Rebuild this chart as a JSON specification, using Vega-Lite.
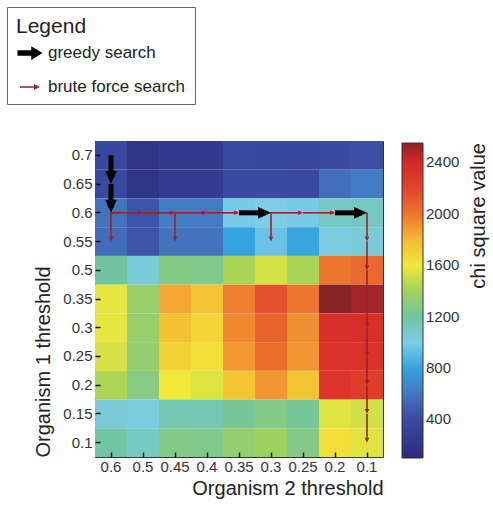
{
  "$schema": "https://vega.github.io/schema/vega-lite/v6.json",
  "autosize": {"type": "none"},
  "padding": {"left": 95, "top": 141, "right": 110, "bottom": 54},
  "width": 288,
  "height": 316,
  "background": "white",
  "config": {
    "font": "Liberation Sans",
    "view": {"stroke": "#333333", "strokeWidth": 1},
    "axis": {
      "grid": false,
      "domain": false,
      "tickSize": -5,
      "tickColor": "#111111",
      "tickWidth": 1.5,
      "labelFontSize": 15,
      "labelColor": "#333333",
      "titleFontSize": 20,
      "titleFontWeight": "normal",
      "titleColor": "#222222"
    }
  },
  "datasets": {
    "cells": [
      {"o1": "0.7", "o2": "0.6", "chi": 380}, {"o1": "0.7", "o2": "0.5", "chi": 190}, {"o1": "0.7", "o2": "0.45", "chi": 240}, {"o1": "0.7", "o2": "0.4", "chi": 240}, {"o1": "0.7", "o2": "0.35", "chi": 390}, {"o1": "0.7", "o2": "0.3", "chi": 380}, {"o1": "0.7", "o2": "0.25", "chi": 380}, {"o1": "0.7", "o2": "0.2", "chi": 400}, {"o1": "0.7", "o2": "0.1", "chi": 420},
      {"o1": "0.65", "o2": "0.6", "chi": 380}, {"o1": "0.65", "o2": "0.5", "chi": 190}, {"o1": "0.65", "o2": "0.45", "chi": 250}, {"o1": "0.65", "o2": "0.4", "chi": 250}, {"o1": "0.65", "o2": "0.35", "chi": 400}, {"o1": "0.65", "o2": "0.3", "chi": 400}, {"o1": "0.65", "o2": "0.25", "chi": 390}, {"o1": "0.65", "o2": "0.2", "chi": 560}, {"o1": "0.65", "o2": "0.1", "chi": 620},
      {"o1": "0.6", "o2": "0.6", "chi": 580}, {"o1": "0.6", "o2": "0.5", "chi": 450}, {"o1": "0.6", "o2": "0.45", "chi": 620}, {"o1": "0.6", "o2": "0.4", "chi": 620}, {"o1": "0.6", "o2": "0.35", "chi": 990}, {"o1": "0.6", "o2": "0.3", "chi": 1000}, {"o1": "0.6", "o2": "0.25", "chi": 990}, {"o1": "0.6", "o2": "0.2", "chi": 1100}, {"o1": "0.6", "o2": "0.1", "chi": 1110},
      {"o1": "0.55", "o2": "0.6", "chi": 550}, {"o1": "0.55", "o2": "0.5", "chi": 450}, {"o1": "0.55", "o2": "0.45", "chi": 580}, {"o1": "0.55", "o2": "0.4", "chi": 580}, {"o1": "0.55", "o2": "0.35", "chi": 800}, {"o1": "0.55", "o2": "0.3", "chi": 950}, {"o1": "0.55", "o2": "0.25", "chi": 810}, {"o1": "0.55", "o2": "0.2", "chi": 1030}, {"o1": "0.55", "o2": "0.1", "chi": 1040},
      {"o1": "0.5", "o2": "0.6", "chi": 1200}, {"o1": "0.5", "o2": "0.5", "chi": 1040}, {"o1": "0.5", "o2": "0.45", "chi": 1280}, {"o1": "0.5", "o2": "0.4", "chi": 1260}, {"o1": "0.5", "o2": "0.35", "chi": 1420}, {"o1": "0.5", "o2": "0.3", "chi": 1530}, {"o1": "0.5", "o2": "0.25", "chi": 1420}, {"o1": "0.5", "o2": "0.2", "chi": 2000}, {"o1": "0.5", "o2": "0.1", "chi": 2050},
      {"o1": "0.35", "o2": "0.6", "chi": 1570}, {"o1": "0.35", "o2": "0.5", "chi": 1350}, {"o1": "0.35", "o2": "0.45", "chi": 1850}, {"o1": "0.35", "o2": "0.4", "chi": 1750}, {"o1": "0.35", "o2": "0.35", "chi": 1970}, {"o1": "0.35", "o2": "0.3", "chi": 2150}, {"o1": "0.35", "o2": "0.25", "chi": 2000}, {"o1": "0.35", "o2": "0.2", "chi": 2550}, {"o1": "0.35", "o2": "0.1", "chi": 2500},
      {"o1": "0.3", "o2": "0.6", "chi": 1570}, {"o1": "0.3", "o2": "0.5", "chi": 1350}, {"o1": "0.3", "o2": "0.45", "chi": 1760}, {"o1": "0.3", "o2": "0.4", "chi": 1680}, {"o1": "0.3", "o2": "0.35", "chi": 1940}, {"o1": "0.3", "o2": "0.3", "chi": 2080}, {"o1": "0.3", "o2": "0.25", "chi": 1920}, {"o1": "0.3", "o2": "0.2", "chi": 2350}, {"o1": "0.3", "o2": "0.1", "chi": 2350},
      {"o1": "0.25", "o2": "0.6", "chi": 1540}, {"o1": "0.25", "o2": "0.5", "chi": 1340}, {"o1": "0.25", "o2": "0.45", "chi": 1700}, {"o1": "0.25", "o2": "0.4", "chi": 1640}, {"o1": "0.25", "o2": "0.35", "chi": 1890}, {"o1": "0.25", "o2": "0.3", "chi": 2030}, {"o1": "0.25", "o2": "0.25", "chi": 1900}, {"o1": "0.25", "o2": "0.2", "chi": 2330}, {"o1": "0.25", "o2": "0.1", "chi": 2320},
      {"o1": "0.2", "o2": "0.6", "chi": 1430}, {"o1": "0.2", "o2": "0.5", "chi": 1290}, {"o1": "0.2", "o2": "0.45", "chi": 1600}, {"o1": "0.2", "o2": "0.4", "chi": 1550}, {"o1": "0.2", "o2": "0.35", "chi": 1750}, {"o1": "0.2", "o2": "0.3", "chi": 1900}, {"o1": "0.2", "o2": "0.25", "chi": 1750}, {"o1": "0.2", "o2": "0.2", "chi": 2300}, {"o1": "0.2", "o2": "0.1", "chi": 2250},
      {"o1": "0.15", "o2": "0.6", "chi": 1050}, {"o1": "0.15", "o2": "0.5", "chi": 1020}, {"o1": "0.15", "o2": "0.45", "chi": 1150}, {"o1": "0.15", "o2": "0.4", "chi": 1140}, {"o1": "0.15", "o2": "0.35", "chi": 1220}, {"o1": "0.15", "o2": "0.3", "chi": 1270}, {"o1": "0.15", "o2": "0.25", "chi": 1220}, {"o1": "0.15", "o2": "0.2", "chi": 1560}, {"o1": "0.15", "o2": "0.1", "chi": 1520},
      {"o1": "0.1", "o2": "0.6", "chi": 1180}, {"o1": "0.1", "o2": "0.5", "chi": 1100}, {"o1": "0.1", "o2": "0.45", "chi": 1270}, {"o1": "0.1", "o2": "0.4", "chi": 1260}, {"o1": "0.1", "o2": "0.35", "chi": 1340}, {"o1": "0.1", "o2": "0.3", "chi": 1380}, {"o1": "0.1", "o2": "0.25", "chi": 1270}, {"o1": "0.1", "o2": "0.2", "chi": 1640}, {"o1": "0.1", "o2": "0.1", "chi": 1560}
    ],
    "steps": [
      {"x_from": "0.6", "y_from": "0.6", "x_to": "0.5", "y_to": "0.6", "dir": "right", "search": "brute force search"},
      {"x_from": "0.5", "y_from": "0.6", "x_to": "0.45", "y_to": "0.6", "dir": "right", "search": "brute force search"},
      {"x_from": "0.45", "y_from": "0.6", "x_to": "0.4", "y_to": "0.6", "dir": "right", "search": "brute force search"},
      {"x_from": "0.4", "y_from": "0.6", "x_to": "0.35", "y_to": "0.6", "dir": "right", "search": "brute force search"},
      {"x_from": "0.3", "y_from": "0.6", "x_to": "0.25", "y_to": "0.6", "dir": "right", "search": "brute force search"},
      {"x_from": "0.25", "y_from": "0.6", "x_to": "0.2", "y_to": "0.6", "dir": "right", "search": "brute force search"},
      {"x_from": "0.6", "y_from": "0.6", "x_to": "0.6", "y_to": "0.55", "dir": "down", "search": "brute force search"},
      {"x_from": "0.45", "y_from": "0.6", "x_to": "0.45", "y_to": "0.55", "dir": "down", "search": "brute force search"},
      {"x_from": "0.3", "y_from": "0.6", "x_to": "0.3", "y_to": "0.55", "dir": "down", "search": "brute force search"},
      {"x_from": "0.1", "y_from": "0.6", "x_to": "0.1", "y_to": "0.55", "dir": "down", "search": "brute force search"},
      {"x_from": "0.1", "y_from": "0.55", "x_to": "0.1", "y_to": "0.5", "dir": "down", "search": "brute force search"},
      {"x_from": "0.1", "y_from": "0.5", "x_to": "0.1", "y_to": "0.35", "dir": "down", "search": "brute force search"},
      {"x_from": "0.1", "y_from": "0.35", "x_to": "0.1", "y_to": "0.3", "dir": "down", "search": "brute force search"},
      {"x_from": "0.1", "y_from": "0.3", "x_to": "0.1", "y_to": "0.25", "dir": "down", "search": "brute force search"},
      {"x_from": "0.1", "y_from": "0.25", "x_to": "0.1", "y_to": "0.2", "dir": "down", "search": "brute force search"},
      {"x_from": "0.1", "y_from": "0.2", "x_to": "0.1", "y_to": "0.15", "dir": "down", "search": "brute force search"},
      {"x_from": "0.1", "y_from": "0.15", "x_to": "0.1", "y_to": "0.1", "dir": "down", "search": "brute force search"},
      {"x_from": "0.6", "y_from": "0.7", "x_to": "0.6", "y_to": "0.65", "dir": "down", "search": "greedy search"},
      {"x_from": "0.6", "y_from": "0.65", "x_to": "0.6", "y_to": "0.6", "dir": "down", "search": "greedy search"},
      {"x_from": "0.35", "y_from": "0.6", "x_to": "0.3", "y_to": "0.6", "dir": "right", "search": "greedy search"},
      {"x_from": "0.2", "y_from": "0.6", "x_to": "0.1", "y_to": "0.6", "dir": "right", "search": "greedy search"}
    ]
  },
  "layer": [
    {
      "data": {"name": "cells"},
      "mark": {"type": "rect"},
      "encoding": {
        "x": {
          "field": "o2", "type": "nominal",
          "scale": {"domain": ["0.6", "0.5", "0.45", "0.4", "0.35", "0.3", "0.25", "0.2", "0.1"], "paddingInner": 0, "paddingOuter": 0},
          "axis": {"orient": "bottom", "title": "Organism 2 threshold", "labelAngle": 0, "labelPadding": 7, "titleAnchor": "end", "titlePadding": 4}
        },
        "y": {
          "field": "o1", "type": "nominal",
          "scale": {"domain": ["0.7", "0.65", "0.6", "0.55", "0.5", "0.35", "0.3", "0.25", "0.2", "0.15", "0.1"], "paddingInner": 0, "paddingOuter": 0},
          "axis": {"orient": "left", "title": "Organism 1 threshold", "labelPadding": 8, "titleAnchor": "end", "titleAlign": "left", "titlePadding": 9}
        },
        "color": {
          "field": "chi", "type": "quantitative",
          "scale": {
            "domain": [100, 400, 600, 800, 1000, 1200, 1400, 1600, 1800, 2000, 2200, 2400, 2550],
            "range": ["#2b2a7f", "#3a4aa0", "#4477c0", "#35a3df", "#7ccde6", "#72c4a0", "#a2d25a", "#f1e93a", "#f6b733", "#ec7530", "#e2432c", "#d6282b", "#8a2325"],
            "interpolate": "rgb"
          },
          "legend": {
            "orient": "none", "legendX": 307, "legendY": 2, "direction": "vertical",
            "gradientLength": 315, "gradientThickness": 21,
            "gradientStrokeColor": "#333333", "gradientStrokeWidth": 1,
            "values": [400, 800, 1200, 1600, 2000, 2400], "format": "d",
            "labelFontSize": 15, "labelColor": "#333333", "labelOffset": 3, "labelOverlap": false,
            "title": "chi square value", "titleOrient": "right", "titleAnchor": "end", "titleFontSize": 20, "titleFontWeight": "normal", "titleColor": "#222222", "titlePadding": 10,
            "padding": 0,
            "encode": {"title": {"update": {"angle": {"value": -90}, "align": {"value": "right"}, "baseline": {"value": "top"}}}}
          }
        }
      }
    },
    {
      "data": {"name": "steps"},
      "encoding": {
        "color": {
          "field": "search", "type": "nominal",
          "scale": {"domain": ["greedy search", "brute force search"], "range": ["#000000", "#9b2226"]},
          "legend": {
            "orient": "none", "legendX": -88, "legendY": -134,
            "title": "Legend", "titleFontSize": 21, "titleFontWeight": "normal", "titleColor": "#222222", "titlePadding": 6,
            "labelFontSize": 17, "labelColor": "#222222", "labelOffset": 8,
            "strokeColor": "#666666", "padding": 9, "rowPadding": 16,
            "symbolType": "M-1,-0.22L0.1,-0.22L0.1,-0.55L1,0L0.1,0.55L0.1,0.22L-1,0.22Z",
            "symbolSize": 256, "symbolOffset": 4,
            "encode": {
              "symbols": {
                "update": {
                  "shape": {"signal": "datum.value === 'greedy search' ? 'M-1,-0.22L0.1,-0.22L0.1,-0.55L1,0L0.1,0.55L0.1,0.22L-1,0.22Z' : 'M-1,-0.08L0.4,-0.08L0.4,-0.3L1,0L0.4,0.3L0.4,0.08L-1,0.08Z'"},
                  "size": {"signal": "datum.value === 'greedy search' ? 625 : 400"},
                  "fill": {"signal": "datum.value === 'greedy search' ? '#000000' : '#9b2226'"},
                  "strokeWidth": {"value": 0},
                  "opacity": {"value": 1}
                }
              }
            }
          }
        }
      },
      "layer": [
        {
          "transform": [{"filter": "datum.dir === 'right'"}],
          "mark": {"type": "rule", "x2Offset": -5, "strokeCap": "butt"},
          "encoding": {
            "x": {"field": "x_from", "type": "nominal", "scale": {"domain": ["0.6", "0.5", "0.45", "0.4", "0.35", "0.3", "0.25", "0.2", "0.1"], "paddingInner": 0, "paddingOuter": 0}, "axis": null},
            "x2": {"field": "x_to"},
            "y": {"field": "y_from", "type": "nominal", "scale": {"domain": ["0.7", "0.65", "0.6", "0.55", "0.5", "0.35", "0.3", "0.25", "0.2", "0.15", "0.1"], "paddingInner": 0, "paddingOuter": 0}, "axis": null},
            "strokeWidth": {"field": "search", "type": "nominal", "scale": {"domain": ["greedy search", "brute force search"], "range": [5, 1.6]}, "legend": null}
          }
        },
        {
          "transform": [{"filter": "datum.dir === 'down'"}],
          "mark": {"type": "rule", "y2Offset": -5, "strokeCap": "butt"},
          "encoding": {
            "x": {"field": "x_from", "type": "nominal", "scale": {"domain": ["0.6", "0.5", "0.45", "0.4", "0.35", "0.3", "0.25", "0.2", "0.1"], "paddingInner": 0, "paddingOuter": 0}, "axis": null},
            "y": {"field": "y_from", "type": "nominal", "scale": {"domain": ["0.7", "0.65", "0.6", "0.55", "0.5", "0.35", "0.3", "0.25", "0.2", "0.15", "0.1"], "paddingInner": 0, "paddingOuter": 0}, "axis": null},
            "y2": {"field": "y_to"},
            "strokeWidth": {"field": "search", "type": "nominal", "scale": {"domain": ["greedy search", "brute force search"], "range": [5, 1.6]}, "legend": null}
          }
        },
        {
          "transform": [{"filter": "datum.dir === 'right'"}],
          "mark": {"type": "point", "filled": true, "opacity": 1, "shape": "M0,0L-1,-0.45L-1,0.45Z", "angle": 0},
          "encoding": {
            "x": {"field": "x_to", "type": "nominal", "scale": {"domain": ["0.6", "0.5", "0.45", "0.4", "0.35", "0.3", "0.25", "0.2", "0.1"], "paddingInner": 0, "paddingOuter": 0}, "axis": {"orient": "top", "labels": false, "title": null}},
            "y": {"field": "y_to", "type": "nominal", "scale": {"domain": ["0.7", "0.65", "0.6", "0.55", "0.5", "0.35", "0.3", "0.25", "0.2", "0.15", "0.1"], "paddingInner": 0, "paddingOuter": 0}, "axis": {"orient": "right", "labels": false, "title": null}},
            "size": {"field": "search", "type": "nominal", "scale": {"domain": ["greedy search", "brute force search"], "range": [676, 100]}, "legend": null}
          }
        },
        {
          "transform": [{"filter": "datum.dir === 'down'"}],
          "mark": {"type": "point", "filled": true, "opacity": 1, "shape": "M0,0L-1,-0.45L-1,0.45Z", "angle": 90},
          "encoding": {
            "x": {"field": "x_to", "type": "nominal", "scale": {"domain": ["0.6", "0.5", "0.45", "0.4", "0.35", "0.3", "0.25", "0.2", "0.1"], "paddingInner": 0, "paddingOuter": 0}, "axis": null},
            "y": {"field": "y_to", "type": "nominal", "scale": {"domain": ["0.7", "0.65", "0.6", "0.55", "0.5", "0.35", "0.3", "0.25", "0.2", "0.15", "0.1"], "paddingInner": 0, "paddingOuter": 0}, "axis": null},
            "size": {"field": "search", "type": "nominal", "scale": {"domain": ["greedy search", "brute force search"], "range": [676, 100]}, "legend": null}
          }
        }
      ]
    }
  ],
  "resolve": {"scale": {"color": "independent"}, "axis": {"x": "independent", "y": "independent"}, "legend": {"color": "independent"}}
}
